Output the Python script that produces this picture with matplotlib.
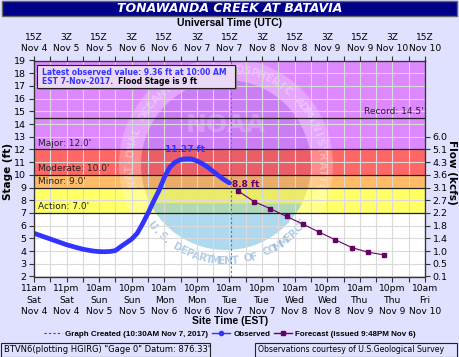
import numpy as np
import matplotlib

matplotlib.use("Agg")
import matplotlib.pyplot as plt
from matplotlib.lines import Line2D
from matplotlib.patches import Rectangle, Circle, Wedge

# hours since 15Z Nov 4 (11am EDT Sat)
OBS_HOURS = [0, 2, 4, 6, 8, 10, 12, 14, 16, 18, 20, 22, 24, 26, 28, 30, 32, 34, 36, 38,
             40, 42, 44, 46, 48, 50, 52, 54, 56, 58, 60, 62, 64, 66, 68, 70, 72]
OBS_STAGE = [5.40, 5.25, 5.10, 4.95, 4.80, 4.65, 4.50, 4.38, 4.26, 4.15, 4.07, 4.00, 3.96,
             3.95, 3.97, 4.04, 4.36, 4.65, 4.95, 5.40, 6.15, 7.0, 7.9, 8.75, 9.8, 10.6,
             11.0, 11.2, 11.27, 11.25, 11.1, 10.88, 10.6, 10.27, 9.93, 9.62, 9.36]
FCST_HOURS = [75, 81, 87, 93, 99, 105, 111, 117, 123, 129]
FCST_STAGE = [8.76, 7.90, 7.34, 6.73, 6.13, 5.49, 4.89, 4.28, 3.91, 3.70]
NOW_HOUR = 72.5

FLOOD = [("Action", 7.0, "#ffff66"), ("Minor", 9.0, "#ffbb66"),
         ("Moderate", 10.0, "#ff6666"), ("Major", 12.0, "#dd88ff")]
RECORD = 14.5

FLOW_STAGE = [2, 3, 4, 5, 6, 7, 8, 9, 10, 11, 12, 13]
FLOW_LABELS = ["0.1", "0.5", "1.0", "1.4", "1.8", "2.2", "2.7", "3.1", "3.6", "4.3", "5.1", "6.0"]

UTC_LABELS = ["15Z\nNov 4", "3Z\nNov 5", "15Z\nNov 5", "3Z\nNov 6", "15Z\nNov 6", "3Z\nNov 7",
              "15Z\nNov 7", "3Z\nNov 8", "15Z\nNov 8", "3Z\nNov 9", "15Z\nNov 9", "3Z\nNov 10",
              "15Z\nNov 10"]
EST_LABELS = ["11am\nSat\nNov 4", "11pm\nSat\nNov 4", "10am\nSun\nNov 5", "10pm\nSun\nNov 5",
              "10am\nMon\nNov 6", "10pm\nMon\nNov 6", "10am\nTue\nNov 7", "10pm\nTue\nNov 7",
              "10am\nWed\nNov 8", "10pm\nWed\nNov 8", "10am\nThu\nNov 9", "10pm\nThu\nNov 9",
              "10am\nFri\nNov 10"]

BG = "#e0e0ff"
W, H = 460, 357


def px(x, y):
    """pixel position from top-left -> figure fraction"""
    return x / W, (H - y) / H


fig = plt.figure(figsize=(W / 100, H / 100), dpi=100, facecolor=BG)
ax = fig.add_axes([34 / W, (H - 276.5) / H, 391 / W, 216 / H])
ax.set_facecolor("white")
ax.set_xlim(0, 144)
ax.set_ylim(2, 19)

# flood category bands
tops = [f[1] for f in FLOOD[1:]] + [19]
for (name, lvl, col), top in zip(FLOOD, tops):
    ax.axhspan(lvl, top, color=col, zorder=0.2, lw=0)

# NOAA watermark (in inches so it stays round)
tr = fig.dpi_scale_trans
cx, cy = 2.26, (H - 165) / 100
ax.add_patch(Wedge((cx, cy), 1.07, 0, 360, width=0.22, transform=tr,
                   facecolor="white", alpha=0.25, lw=0, zorder=0.5))
ax.add_patch(Circle((cx, cy), 0.85, transform=tr, facecolor="#000080",
                    alpha=0.08, lw=0, zorder=0.5))
theta = np.linspace(0, 2 * np.pi, 400)
xs, ys = cx + 0.85 * np.cos(theta), cy + 0.85 * np.sin(theta)
sea = ys < (H - 203) / 100
ax.fill(xs[sea], ys[sea], transform=tr, color="#87ceeb", alpha=0.6, lw=0, zorder=0.55)
ax.text(cx, (H - 125) / 100, "NOAA", transform=tr, ha="center", va="center",
        fontsize=18, fontweight="bold", color="white", alpha=0.22, zorder=0.6)
top_txt = "NATIONAL OCEANIC AND ATMOSPHERIC ADMINISTRATION"
for i, ch in enumerate(top_txt):
    a = np.deg2rad(191 - i * (209 / (len(top_txt) - 1)))
    ax.text(cx + 0.96 * np.cos(a), cy + 0.96 * np.sin(a), ch, transform=tr,
            rotation=np.rad2deg(a) - 90, ha="center", va="center", fontsize=7.5,
            fontweight="bold", color="white", alpha=0.3, zorder=0.6)
bot_txt = "U.S. DEPARTMENT OF COMMERCE"
for i, ch in enumerate(bot_txt):
    a = np.deg2rad(-140 + i * (103 / (len(bot_txt) - 1)))
    ax.text(cx + 0.96 * np.cos(a), cy + 0.96 * np.sin(a), ch, transform=tr,
            rotation=np.rad2deg(a) + 90, ha="center", va="center", fontsize=7.5,
            fontweight="bold", color="#6fa0d0", alpha=0.55, zorder=0.6)

# grid
ax.set_xticks(np.arange(0, 145, 12))
ax.set_xticks(np.arange(0, 145, 6), minor=True)
ax.set_yticks(np.arange(2, 20, 1))
ax.set_axisbelow("line")
ax.grid(True, which="both", color="#dadada", lw=0.8)

# flood lines + labels
for name, lvl, col in FLOOD:
    ax.axhline(lvl, color="#222222", lw=0.9, zorder=2)
    ax.text(1.5, lvl + 0.12, f"{name}: {lvl:.1f}'", fontsize=6.5, color="#222222",
            va="bottom", zorder=4)
ax.axhline(RECORD, color="#222222", lw=0.9, zorder=2)
ax.text(143.5, RECORD + 0.12, f"Record: {RECORD}'", fontsize=6.5, color="#222222",
        ha="right", va="bottom", zorder=4)

# data
ax.axvline(NOW_HOUR, color="#6666ff", lw=0.8, ls=(0, (2, 2)), zorder=2.5)
ax.plot(OBS_HOURS, OBS_STAGE, color="#3333ff", lw=3.4, solid_capstyle="round", zorder=3)
ax.plot(FCST_HOURS, FCST_STAGE, color="#660066", lw=0.8, marker="s", ms=3.2, zorder=3)
ipk = int(np.argmax(OBS_STAGE))
ax.text(OBS_HOURS[ipk] - 0.5, OBS_STAGE[ipk] + 0.35, f"{OBS_STAGE[ipk]:.2f} ft",
        color="#3333ff", fontsize=6.5, fontweight="bold", ha="center", va="bottom", zorder=4)
ax.text(NOW_HOUR + 0.3, FCST_STAGE[0] + 0.1, f"{FCST_STAGE[0]:.1f} ft", color="#660066",
        fontsize=6.5, fontweight="bold", ha="left", va="bottom", zorder=4)

# info box
fig.patches.append(Rectangle(px(39, 90), 198 / W, 23 / H, transform=fig.transFigure,
                             facecolor="#888888", lw=0, zorder=5))
fig.patches.append(Rectangle(px(37, 88), 198 / W, 23 / H, transform=fig.transFigure,
                             facecolor="#ead8f4", edgecolor="#222222", lw=0.8, zorder=5))
fig.text(*px(42, 72.5), "Latest observed value: 9.36 ft at 10:00 AM", color="#3333ff",
         fontsize=5.5, fontweight="bold", va="center", ha="left", zorder=6)
t2 = fig.text(*px(42, 82), "EST 7-Nov-2017.", color="#3333ff",
              fontsize=5.5, fontweight="bold", va="center", ha="left", zorder=6)
ext = t2.get_window_extent(fig.canvas.get_renderer())
fig.text((ext.x1 + 5) / W, (H - 82) / H, "Flood Stage is 9 ft", color="black",
         fontsize=5.5, fontweight="bold", va="center", ha="left", zorder=6)

# axes ticks
ax.set_xticklabels(EST_LABELS, fontsize=6.6, linespacing=1.35)
ax.set_yticklabels([str(v) for v in range(2, 20)], fontsize=6.8)
ax.tick_params(which="both", direction="out", length=3.5, width=0.8, color="#333333", pad=2)
for s in ax.spines.values():
    s.set_color("#333333")

top = ax.twiny()
top.set_xlim(0, 144)
top.set_xticks(np.arange(0, 145, 12))
top.set_xticks(np.arange(0, 145, 6), minor=True)
top.set_xticklabels(UTC_LABELS, fontsize=6.6, linespacing=1.2)
top.tick_params(which="both", direction="out", length=3.5, width=0.8, color="#333333", pad=2)

right = ax.twinx()
right.set_ylim(2, 19)
right.set_yticks(FLOW_STAGE)
right.set_yticklabels(FLOW_LABELS, fontsize=6.8)
right.tick_params(direction="out", length=3.5, width=0.8, color="#333333", pad=2)
for a in (top, right):
    for s in a.spines.values():
        s.set_color("#333333")

# labels and frame text
fig.patches.append(Rectangle(px(2, 16), 455 / W, 15 / H, transform=fig.transFigure,
                             facecolor="#000088", edgecolor="#666666", lw=1))
fig.text(*px(230, 8.5), "TONAWANDA CREEK AT BATAVIA", color="white", fontsize=9,
         fontweight="bold", style="italic", ha="center", va="center")
fig.text(*px(230, 23), "Universal Time (UTC)", fontsize=7.5, fontweight="bold",
         ha="center", va="center", family="Liberation Sans")
fig.text(*px(230, 321), "Site Time (EST)", fontsize=7.5, fontweight="bold",
         ha="center", va="center", family="Liberation Sans")
fig.text(*px(8, 172), "Stage (ft)", fontsize=7.5, fontweight="bold", rotation=90,
         ha="center", va="center")
fig.text(*px(452, 172), "Flow (kcfs)", fontsize=7.5, fontweight="bold", rotation=-90,
         ha="center", va="center")

handles = [Line2D([], [], color="#3333ff", lw=0.8, ls=(0, (2, 2))),
           Line2D([], [], color="#3333ff", lw=1, marker="o", ms=3),
           Line2D([], [], color="#660066", lw=1, marker="s", ms=3)]
fig.legend(handles, ["Graph Created (10:30AM Nov 7, 2017)", "Observed",
                     "Forecast (issued 9:48PM Nov 6)"],
           loc="center", bbox_to_anchor=(0.5, (H - 334) / H), ncol=3, frameon=False,
           prop=dict(family="Liberation Sans", weight="bold", size=5.8),
           handlelength=2.2, handletextpad=0.4, columnspacing=0.5)

fig.patches.append(Rectangle(px(1, 356.5), 209 / W, 14 / H, transform=fig.transFigure,
                             facecolor=BG, edgecolor="#222222", lw=0.8))
fig.text(*px(4, 349.5), "BTVN6(plotting HGIRG) \"Gage 0\" Datum: 876.33'", fontsize=6,
         va="center", ha="left")
fig.patches.append(Rectangle(px(255, 356.5), 202 / W, 14 / H, transform=fig.transFigure,
                             facecolor=BG, edgecolor="#222222", lw=0.8))
fig.text(*px(258, 349.5), "Observations courtesy of U.S.Geological Survey", fontsize=5.6,
         va="center", ha="left")

fig.savefig("out.png", dpi=100, facecolor=BG)
